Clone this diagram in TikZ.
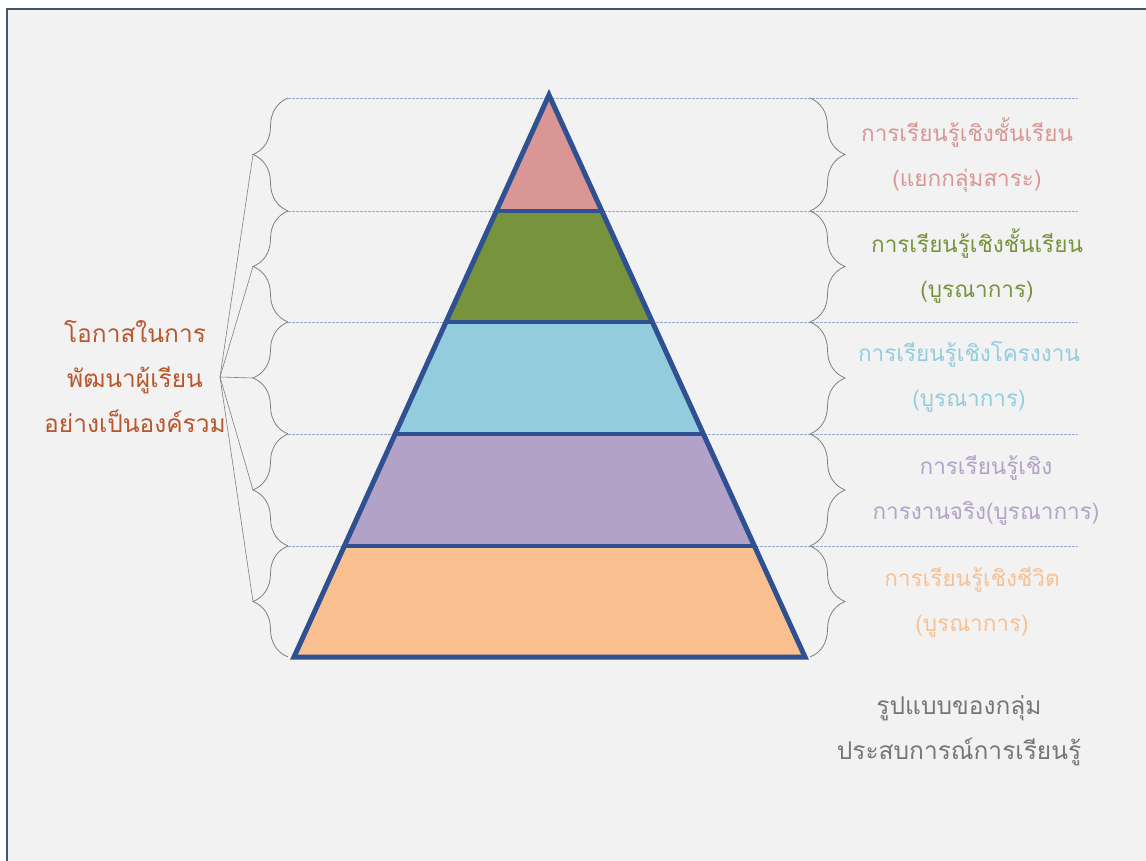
\documentclass[tikz,border=0pt]{standalone}
\usepackage{fontspec}
\newfontfamily\thaifont[Script=Thai]{Loma}
\usetikzlibrary{decorations.pathreplacing}
\definecolor{bgc}{HTML}{F2F2F2}
\definecolor{framec}{HTML}{44546A}
\definecolor{outl}{HTML}{2F5091}
\definecolor{c1}{HTML}{D99694}
\definecolor{c2}{HTML}{77933C}
\definecolor{c3}{HTML}{93CDDD}
\definecolor{c4}{HTML}{B3A2C7}
\definecolor{c5}{HTML}{FAC090}
\definecolor{brn}{HTML}{B9572C}
\definecolor{gry}{HTML}{767676}
\definecolor{dsh}{HTML}{9AA8C8}
\definecolor{brc}{HTML}{808080}
\begin{document}
\begin{tikzpicture}[x=1pt,y=-1pt,
  lbl/.style={font=\thaifont\fontsize{22.5}{45}\selectfont, align=center, inner sep=0pt},
  lblb/.style={font=\thaifont\fontsize{24.5}{45}\selectfont, align=center, inner sep=0pt},
  guide/.style={draw=dsh, line width=0.7pt, dash pattern=on 2.5pt off 1.5pt},
  bracel/.style={draw=brc, line width=0.8pt, decorate, decoration={brace, amplitude=35pt}},
  link/.style={draw=brc, line width=0.6pt}]
\useasboundingbox (0,0) rectangle (1146,861);
\fill[white] (0,0) rectangle (1146,861);
\fill[bgc] (7,9) rectangle (1146,861);
\draw[framec, line width=1.2pt] (7,861) -- (7,9) -- (1146,9);

% guide lines
\foreach \yy in {98,211,322,434,546} {
  \draw[guide] (288,\yy) -- (1078,\yy);
}

% pyramid bands
\fill[c1] (549,95) -- (601.7,211) -- (496.3,211) -- cycle;
\fill[c2] (496.3,211) -- (601.7,211) -- (652.7,322) -- (446.3,322) -- cycle;
\fill[c3] (446.3,322) -- (652.7,322) -- (703.6,434) -- (395.4,434) -- cycle;
\fill[c4] (395.4,434) -- (703.6,434) -- (754.5,546) -- (344.5,546) -- cycle;
\fill[c5] (344.5,546) -- (754.5,546) -- (805,657) -- (294,657) -- cycle;
\draw[outl, line width=5pt, line join=miter] (549,95) -- (805,657) -- (294,657) -- cycle;
\draw[outl, line width=4.5pt] (496.3,211) -- (601.7,211);
\draw[outl, line width=4.5pt] (446.3,322) -- (652.7,322);
\draw[outl, line width=4.5pt] (395.4,434) -- (703.6,434);
\draw[outl, line width=4.5pt] (344.5,546) -- (754.5,546);

% right braces (tips to the right)
\draw[bracel] (810,98) -- (810,211);
\draw[bracel] (810,211) -- (810,322);
\draw[bracel] (810,322) -- (810,434);
\draw[bracel] (810,434) -- (810,546);
\draw[bracel] (810,546) -- (810,657);

% left braces (tips to the left)
\draw[bracel] (288,211) -- (288,98);
\draw[bracel] (288,322) -- (288,211);
\draw[bracel] (288,434) -- (288,322);
\draw[bracel] (288,546) -- (288,434);
\draw[bracel] (288,657) -- (288,546);

\coordinate (t1) at (253,154.5);
\coordinate (t2) at (253,266.5);
\coordinate (t3) at (253,378);
\coordinate (t4) at (253,490);
\coordinate (t5) at (253,601.5);
\coordinate (hub) at (220,377);

% labels
\node[lbl, text=c1] (r1) at (967,155) {การเรียนรู้เชิงชั้นเรียน\\(แยกกลุ่มสาระ)};
\node[lbl, text=c2] (r2) at (977,266) {การเรียนรู้เชิงชั้นเรียน\\(บูรณาการ)};
\node[lbl, text=c3] (r3) at (969,377) {การเรียนรู้เชิงโครงงาน\\(บูรณาการ)};
\node[lbl, text=c4] (r4) at (986,490) {การเรียนรู้เชิง\\การงานจริง(บูรณาการ)};
\node[lbl, text=c5] (r5) at (972,602) {การเรียนรู้เชิงชีวิต\\(บูรณาการ)};
\node[lblb, text=gry] (cap) at (959,731) {รูปแบบของกลุ่ม\\ประสบการณ์การเรียนรู้};
\node[lblb, text=brn] (lt) at (135,377) {โอกาสในการ\\พัฒนาผู้เรียน\\อย่างเป็นองค์รวม};

% links
\draw[link] (hub) -- (t1);
\draw[link] (hub) -- (t2);
\draw[link] (hub) -- (t3);
\draw[link] (hub) -- (t4);
\draw[link] (hub) -- (t5);
\end{tikzpicture}
\end{document}
